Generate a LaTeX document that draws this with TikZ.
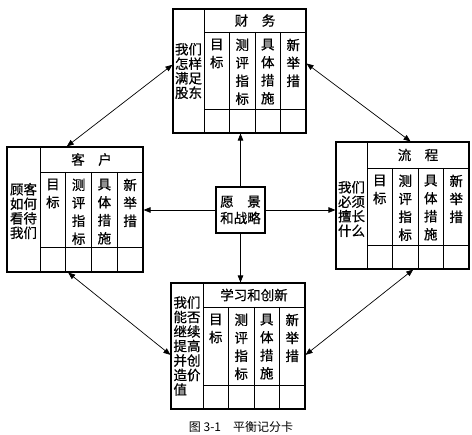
\documentclass[tikz,border=0pt]{standalone}
\usepackage{fontspec}
\setmainfont{Noto Sans CJK SC}[FakeBold=0.7]
\newfontfamily\capfont{Noto Sans CJK SC}
\usetikzlibrary{arrows.meta,calc,fit}
\tikzset{
  cardframe/.style={draw, line width=1.1pt, inner sep=0pt},
  gridline/.style={line width=0.8pt},
  coltext/.style={anchor=north, align=center, font=\fontsize{13.5}{18}\selectfont, inner sep=0pt},
  sidetext/.style={align=left, font=\fontsize{13.5}{14.5}\selectfont, inner sep=0pt},
  headtext/.style={font=\fontsize{13.5}{15}\selectfont, inner sep=0pt},
  arr/.style={line width=0.7pt, -{Triangle[length=7pt,width=5.5pt]}},
  darr/.style={line width=0.7pt, {Triangle[length=7pt,width=5.5pt]}-{Triangle[length=7pt,width=5.5pt]}},
}
% #1 name, #2 x0, #3 y0, #4 x1, #5 y1, #6 xl, #7 yh, #8 yb, #9 header
\newcommand\bsccard[9]{%
  \node[cardframe, fit={(#2,#3) (#4,#5)}] (#1) {};
  \draw[gridline] (#6,#3) -- (#6,#5);
  \draw[gridline] (#6,#7) -- (#4,#7);
  \draw[gridline] (#6,#8) -- (#4,#8);
  \foreach \f in {0.25,0.5,0.75}{\draw[gridline] ({#6+(#4-#6)*\f},#7) -- ({#6+(#4-#6)*\f},#5);}
  \node[headtext] (#1h) at ({(#6+#4)/2},{(#3+#7)/2}) {#9};
  \node[coltext] (#1c1) at ({#6+(#4-#6)*0.125},{#7+6.5}) {目\\标};
  \node[coltext] (#1c2) at ({#6+(#4-#6)*0.375},{#7+6.5}) {测\\评\\指\\标};
  \node[coltext] (#1c3) at ({#6+(#4-#6)*0.625},{#7+6.5}) {具\\体\\措\\施};
  \node[coltext] (#1c4) at ({#6+(#4-#6)*0.875},{#7+6.5}) {新\\举\\措};
}
\begin{document}
\begin{tikzpicture}[x=1pt,y=-1pt]
\useasboundingbox (0,0) rectangle (472,435);

\bsccard{fin}{173}{9}{306}{133}{204}{32}{109}{财　务}
\node[sidetext] (fins) at (188.5,71) {我们\\怎样\\满足\\股东};

\bsccard{cus}{7}{147}{143}{272}{40}{172}{247}{客　户}
\node[sidetext] (cuss) at (23.5,211) {顾客\\如何\\看待\\我们};

\bsccard{pro}{336}{142}{469}{269}{367}{168}{245}{流　程}
\node[sidetext] (pros) at (351.5,209) {我们\\必须\\擅长\\什么};

\bsccard{lrn}{171}{283}{305}{409}{203}{307}{385}{学习和创新}
\node[sidetext] (lrns) at (187,346) {我们\\能否\\继续\\提高\\并创\\造价\\值};

\node[draw, line width=1.1pt, minimum width=49pt, minimum height=46pt, inner sep=0pt,
      align=center, font=\fontsize{13.5}{16.5}\selectfont] (vis) at (240.5,210) {愿　景\\和战略};

\draw[arr] (vis.north) -- (vis.north |- fin.south);
\draw[arr] (vis.south) -- (vis.south |- lrn.north);
\draw[arr] (vis.west) -- (vis.west -| cus.east);
\draw[arr] (vis.east) -- (vis.east -| pro.west);

\draw[darr] ($(cus.north west)!0.44!(cus.north east)$) -- ($(fin.north west)!0.45!(fin.south west)$);
\draw[darr] ($(fin.north east)!0.44!(fin.south east)$) -- ($(pro.north west)!0.56!(pro.north east)$);
\draw[darr] ($(cus.south west)!0.45!(cus.south east)$) -- ($(lrn.north west)!0.57!(lrn.south west)$);
\draw[darr] ($(pro.south west)!0.58!(pro.south east)$) -- ($(lrn.north east)!0.57!(lrn.south east)$);

\node[font=\capfont\fontsize{12}{14}\selectfont, inner sep=0pt] (cap) at (241,427) {图 3-1\quad 平衡记分卡};
\end{tikzpicture}
\end{document}
